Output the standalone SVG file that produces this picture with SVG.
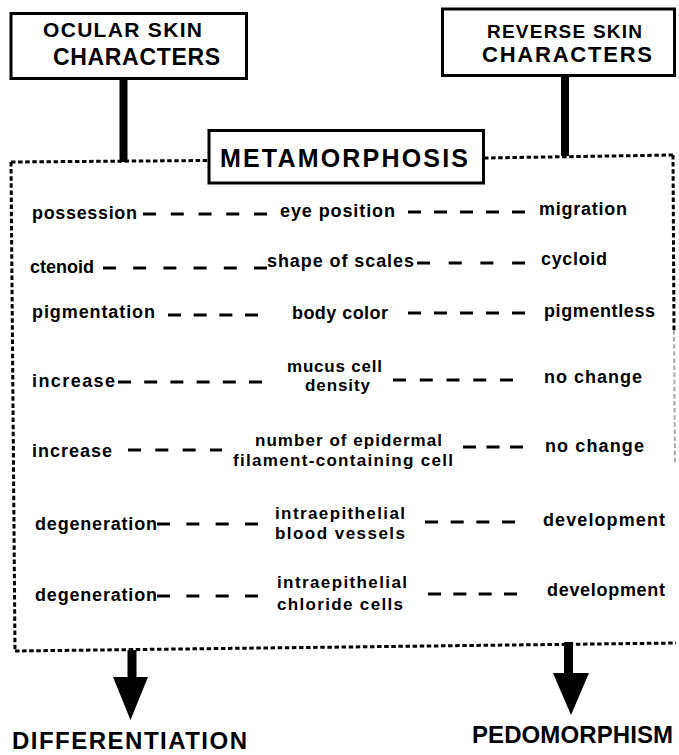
<svg xmlns="http://www.w3.org/2000/svg" width="679" height="755" viewBox="0 0 679 755">
<style>
text{font-family:"Liberation Sans",Arial,Helvetica,sans-serif;font-weight:bold;fill:#000}
.t{font-size:18px}
.t2{font-size:17px}
.box{fill:#fff;stroke:#000;stroke-width:3}
.dot{fill:none;stroke:#000;stroke-width:3;stroke-dasharray:4.5 2.6}
.dash{stroke:#000;stroke-width:3;fill:none}
</style>
<rect width="679" height="755" fill="#fff"/>
<g id="connectors">
  <path class="dot" d="M11,162 L209,160.5"/>
  <path class="dot" d="M484,158 L673,155"/>
  <path class="dot" d="M11,162 L15,651"/>
  <path class="dot" d="M673,155 L674,330"/>
  <path class="dot" d="M674,330 L675,465" style="stroke:#aaa;stroke-width:2"/>
  <path class="dot" d="M15,651 L676,643"/>
  <rect x="119.5" y="79" width="8" height="83" fill="#000"/>
  <rect x="561" y="76" width="8" height="80" fill="#000"/>
  <rect x="127.5" y="650" width="9" height="28" fill="#000"/>
  <polygon points="113,677 148,677 130.5,720" fill="#000"/>
  <rect x="564" y="642" width="9" height="32" fill="#000"/>
  <polygon points="553,673 589,673 571,715" fill="#000"/>
  <g id="dashes">
    <line class="dash" x1="143" y1="214" x2="267" y2="214" stroke-dasharray="13 14.75"/>
    <line class="dash" x1="408" y1="212" x2="525" y2="212" stroke-dasharray="13 13"/>
    <line class="dash" x1="103" y1="268" x2="267" y2="268" stroke-dasharray="13 17.2"/>
    <line class="dash" x1="417" y1="263" x2="525" y2="263" stroke-dasharray="13 18.7"/>
    <line class="dash" x1="168" y1="315" x2="258" y2="315" stroke-dasharray="13 12.67"/>
    <line class="dash" x1="408" y1="313" x2="525" y2="313" stroke-dasharray="13 13"/>
    <line class="dash" x1="118" y1="382" x2="262" y2="382" stroke-dasharray="13 13.2"/>
    <line class="dash" x1="393" y1="380" x2="513" y2="380" stroke-dasharray="13 13.75"/>
    <line class="dash" x1="128" y1="450" x2="222" y2="450" stroke-dasharray="13 14.33"/>
    <line class="dash" x1="463" y1="447" x2="523" y2="447" stroke-dasharray="13 10.5"/>
    <line class="dash" x1="157" y1="524" x2="258" y2="524" stroke-dasharray="13 16.33"/>
    <line class="dash" x1="425" y1="522" x2="515" y2="522" stroke-dasharray="13 12.67"/>
    <line class="dash" x1="157" y1="596" x2="258" y2="596" stroke-dasharray="13 16.33"/>
    <line class="dash" x1="428" y1="594" x2="517" y2="594" stroke-dasharray="13 12.33"/>
  </g>
</g>
<g id="ocular">
  <rect class="box" x="11" y="13.5" width="235.5" height="65"/>
  <text x="43" y="37" font-size="21" textLength="159" lengthAdjust="spacing">OCULAR SKIN</text>
  <text x="53" y="65" font-size="23" textLength="167" lengthAdjust="spacing">CHARACTERS</text>
</g>
<g id="reverse">
  <rect class="box" x="442.5" y="9" width="232" height="66.5"/>
  <text x="487" y="38" font-size="19" textLength="155" lengthAdjust="spacing">REVERSE SKIN</text>
  <text x="482" y="62" font-size="22" textLength="170" lengthAdjust="spacing">CHARACTERS</text>
</g>
<g id="metamorphosis">
  <rect class="box" x="209" y="130.5" width="274.5" height="52.5"/>
  <text x="220" y="167" font-size="25" textLength="248" lengthAdjust="spacing">METAMORPHOSIS</text>
</g>
<g id="row1">
  <text class="t" x="32" y="219" textLength="105" lengthAdjust="spacing">possession</text>
  <text class="t" x="280" y="217" textLength="115" lengthAdjust="spacing">eye position</text>
  <text class="t" x="539" y="215" textLength="88" lengthAdjust="spacing">migration</text>
</g>
<g id="row2">
  <text class="t" x="30" y="273">ctenoid</text>
  <text class="t" x="267" y="267" textLength="147" lengthAdjust="spacing">shape of scales</text>
  <text class="t" x="541" y="265" textLength="66" lengthAdjust="spacing">cycloid</text>
</g>
<g id="row3">
  <text class="t" x="32" y="318" textLength="123" lengthAdjust="spacing">pigmentation</text>
  <text class="t" x="292" y="319" textLength="96" lengthAdjust="spacing">body color</text>
  <text class="t" x="544" y="317" textLength="111" lengthAdjust="spacing">pigmentless</text>
</g>
<g id="row4">
  <text class="t" x="32" y="387" textLength="83" lengthAdjust="spacing">increase</text>
  <text class="t2" x="287" y="372" textLength="95" lengthAdjust="spacing">mucus cell</text>
  <text class="t2" x="305" y="391" textLength="65" lengthAdjust="spacing">density</text>
  <text class="t" x="544" y="383" textLength="98" lengthAdjust="spacing">no change</text>
</g>
<g id="row5">
  <text class="t" x="32" y="457" textLength="80" lengthAdjust="spacing">increase</text>
  <text class="t2" x="255" y="446" textLength="187" lengthAdjust="spacing">number of epidermal</text>
  <text class="t2" x="233" y="466" textLength="220" lengthAdjust="spacing">filament-containing cell</text>
  <text class="t" x="545" y="452" textLength="99" lengthAdjust="spacing">no change</text>
</g>
<g id="row6">
  <text class="t" x="35" y="530" textLength="122" lengthAdjust="spacing">degeneration</text>
  <text class="t2" x="275" y="519" textLength="130" lengthAdjust="spacing">intraepithelial</text>
  <text class="t2" x="275" y="539" textLength="130" lengthAdjust="spacing">blood vessels</text>
  <text class="t" x="543" y="526" textLength="122" lengthAdjust="spacing">development</text>
</g>
<g id="row7">
  <text class="t" x="35" y="601" textLength="122" lengthAdjust="spacing">degeneration</text>
  <text class="t2" x="277" y="588" textLength="130" lengthAdjust="spacing">intraepithelial</text>
  <text class="t2" x="277" y="610" textLength="126" lengthAdjust="spacing">chloride cells</text>
  <text class="t" x="547" y="596" textLength="118" lengthAdjust="spacing">development</text>
</g>
<g id="differentiation">
  <text x="12" y="749" font-size="24" textLength="235" lengthAdjust="spacing">DIFFERENTIATION</text>
</g>
<g id="pedomorphism">
  <text x="472" y="743" font-size="24" textLength="201" lengthAdjust="spacing">PEDOMORPHISM</text>
</g>
</svg>
